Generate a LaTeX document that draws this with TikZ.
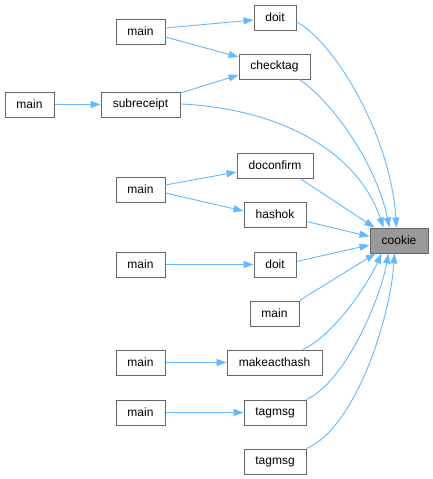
\documentclass[tikz,border=0pt]{standalone}
\usepackage{fontspec}
\setmainfont{Liberation Sans}
\usetikzlibrary{arrows.meta,calc}
\definecolor{edgeblue}{HTML}{63B8FF}
\definecolor{boxgray}{HTML}{666666}
\definecolor{hilite}{HTML}{999999}
\begin{document}
\begin{tikzpicture}[x=1pt,y=-1pt,
  fn/.style={draw=boxgray,line width=1pt,fill=white,inner sep=0pt,minimum height=25pt,font=\fontsize{12}{14}\selectfont},
  hl/.style={fn,fill=hilite},
  edge/.style={draw=edgeblue,line width=0.9pt,-{Triangle[length=10pt,width=7pt]}}]
\fill[white] (0,0) rectangle (433,479);
\useasboundingbox (0,0) rectangle (433,479);
% nodes
\node[fn,minimum width=42pt] (doitA) at (275,17.5) {doit};
\node[fn,minimum width=49pt] (mainA) at (140.5,31.5) {main};
\node[fn,minimum width=71pt] (checktag) at (274.5,66.5) {checktag};
\node[fn,minimum width=49pt] (mainB) at (29.5,104.5) {main};
\node[fn,minimum width=79pt] (subreceipt) at (140.5,104.5) {subreceipt};
\node[fn,minimum width=76pt] (doconfirm) at (275,165.5) {doconfirm};
\node[fn,minimum width=49pt] (mainC) at (140.5,189.5) {main};
\node[fn,minimum width=62pt] (hashok) at (275,214.5) {hashok};
\node[hl,minimum width=58pt] (cookie) at (399,240.5) {cookie};
\node[fn,minimum width=49pt] (mainE) at (140.5,264.5) {main};
\node[fn,minimum width=42pt] (doitB) at (275,264.5) {doit};
\node[fn,minimum width=49pt] (mainD) at (274.5,313.5) {main};
\node[fn,minimum width=49pt] (mainF) at (140.5,362.5) {main};
\node[fn,minimum width=95pt] (makeacthash) at (274.5,362.5) {makeacthash};
\node[fn,minimum width=49pt] (mainG) at (140.5,412.5) {main};
\node[fn,minimum width=62pt] (tagmsgA) at (275,412.5) {tagmsg};
\node[fn,minimum width=62pt] (tagmsgB) at (275,461.5) {tagmsg};
% left-side edges
\draw[edge] ($(mainA.east)+(0,-3.5)$) -- ($(doitA.west)+(0,2.5)$);
\draw[edge] ($(mainA.east)+(0,5.5)$) -- ($(checktag.west)+(0,-9.5)$);
\draw[edge] (mainB.east) -- (subreceipt.west);
\draw[edge] ($(subreceipt.east)+(0,-11.5)$) -- ($(checktag.west)+(0,8.5)$);
\draw[edge] ($(mainC.east)+(0,-4.5)$) -- ($(doconfirm.west)+(0,6.5)$);
\draw[edge] ($(mainC.east)+(0,3.5)$) -- ($(hashok.west)+(0,-3.5)$);
\draw[edge] (mainE.east) -- (doitB.west);
\draw[edge] (mainF.east) -- (makeacthash.west);
\draw[edge] (mainG.east) -- (tagmsgA.west);
% edges into cookie
\draw[edge] ($(doitA.east)+(0,4.5)$) .. controls (330,38) and (390,130) .. ($(cookie.north west)+(27,0)$);
\draw[edge] ($(checktag.south)+(25,0)$) .. controls (330,100) and (375,160) .. ($(cookie.north west)+(20,0)$);
\draw[edge] ($(subreceipt.east)+(0,-0.5)$) .. controls (270,108) and (355,145) .. ($(cookie.north west)+(14,0)$);
\draw[edge] ($(doconfirm.south)+(25,0)$) -- ($(cookie.north west)+(5,0)$);
\draw[edge] ($(hashok.east)+(0,7)$) -- ($(cookie.west)+(0,-4)$);
\draw[edge] ($(doitB.east)+(0,-3)$) -- ($(cookie.west)+(0,4.5)$);
\draw[edge] ($(mainD.north east)+(0,0)$) -- ($(cookie.south west)+(6,0)$);
\draw[edge] ($(makeacthash.north)+(28,0)$) .. controls (330,338) and (365,290) .. ($(cookie.south west)+(12,0)$);
\draw[edge] ($(tagmsgA.north east)+(0,0)$) .. controls (345,382) and (380,300) .. ($(cookie.south west)+(19,0)$);
\draw[edge] ($(tagmsgB.north east)+(0,0)$) .. controls (355,428) and (390,320) .. ($(cookie.south west)+(25,0)$);
\end{tikzpicture}
\end{document}
